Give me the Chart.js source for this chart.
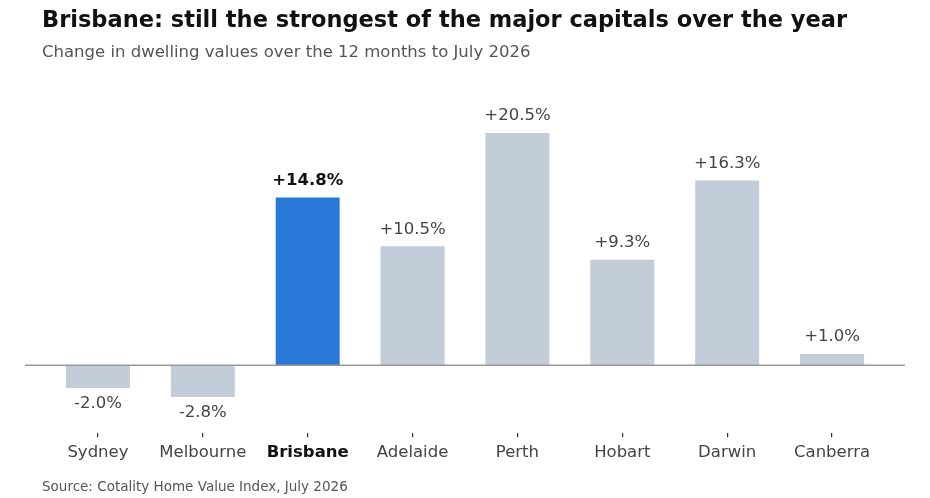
<!DOCTYPE html>
<html>
<head>
<meta charset="utf-8">
<script src="https://cdn.jsdelivr.net/npm/chart.js@4"></script>
<style>
  body { margin: 0; background: #fff; font-family: "DejaVu Sans", sans-serif; }
  #wrap { position: relative; width: 930px; height: 498px; }
  #title { position: absolute; left: 42px; top: 6px; font-size: 22.5px; font-weight: bold; color: #111; white-space: nowrap; }
  #subtitle { position: absolute; left: 42px; top: 42px; font-size: 16.5px; color: #555; white-space: nowrap; }
  #source { position: absolute; left: 42px; top: 478px; font-size: 13.5px; color: #555; white-space: nowrap; }
  canvas { position: absolute; left: 0; top: 0; }
</style>
</head>
<body>
<div id="wrap">
  <canvas id="myChart" width="930" height="498"></canvas>
  <div id="title">Brisbane: still the strongest of the major capitals over the year</div>
  <div id="subtitle">Change in dwelling values over the 12 months to July 2026</div>
  <div id="source">Source: Cotality Home Value Index, July 2026</div>
</div>
<script>
const cities = ["Sydney", "Melbourne", "Brisbane", "Adelaide", "Perth", "Hobart", "Darwin", "Canberra"];
const changes = [-2.0, -2.8, 14.8, 10.5, 20.5, 9.3, 16.3, 1.0];
const highlight = "Brisbane";

const greyBar = "#c3ccd9";
const blueBar = "#2878d7";

// value labels above / below each bar
const valueLabels = {
    id: "valueLabels",
    afterDatasetsDraw(chart) {
        const ctx = chart.ctx;
        const meta = chart.getDatasetMeta(0);
        ctx.save();
        ctx.textAlign = "center";
        ctx.textBaseline = "middle";
        meta.data.forEach((bar, i) => {
            const v = changes[i];
            const txt = (v > 0 ? "+" : "") + v.toFixed(1) + "%";
            const isHi = cities[i] == highlight;
            ctx.font = (isHi ? "bold " : "") + "16.5px 'DejaVu Sans'";
            ctx.fillStyle = isHi ? "#111" : "#444";
            const y = v >= 0 ? bar.y - 17 : bar.y + 16;
            ctx.fillText(txt, bar.x, y);
        });
        ctx.restore();
    }
};

// zero line running a bit wider than the bars
const zeroLine = {
    id: "zeroLine",
    afterDatasetsDraw(chart) {
        const ctx = chart.ctx;
        const y = chart.scales.y.getPixelForValue(0);
        ctx.save();
        ctx.strokeStyle = "#999";
        ctx.lineWidth = 1.5;
        ctx.beginPath();
        ctx.moveTo(chart.chartArea.left - 20.5, y);
        ctx.lineTo(chart.chartArea.right + 20.5, y);
        ctx.stroke();
        ctx.restore();
    }
};

const ctx = document.getElementById("myChart").getContext("2d");
const myChart = new Chart(ctx, {
    type: "bar",
    data: {
        labels: cities,
        datasets: [{
            data: changes,
            backgroundColor: cities.map(c => c == highlight ? blueBar : greyBar),
            borderWidth: 0,
            barPercentage: 0.61,
            categoryPercentage: 1.0
        }]
    },
    options: {
        responsive: false,
        animation: false,
        layout: {
            padding: { left: 45.5, right: 45.5, top: 82, bottom: 29 }
        },
        plugins: {
            legend: { display: false },
            tooltip: { enabled: false }
        },
        scales: {
            x: {
                border: { display: false },
                grid: {
                    display: true,
                    offset: false,
                    drawOnChartArea: false,
                    drawTicks: true,
                    tickLength: 4,
                    color: "#333",
                    lineWidth: 1.2
                },
                ticks: {
                    padding: 6,
                    font: ctx => ({
                        family: "DejaVu Sans",
                        size: 16.5,
                        weight: cities[ctx.index] == highlight ? "bold" : "normal"
                    }),
                    color: ctx => cities[ctx.index] == highlight ? "#111" : "#444"
                }
            },
            y: {
                display: false,
                min: -6,
                max: 25
            }
        }
    },
    plugins: [zeroLine, valueLabels]
});
</script>
</body>
</html>
